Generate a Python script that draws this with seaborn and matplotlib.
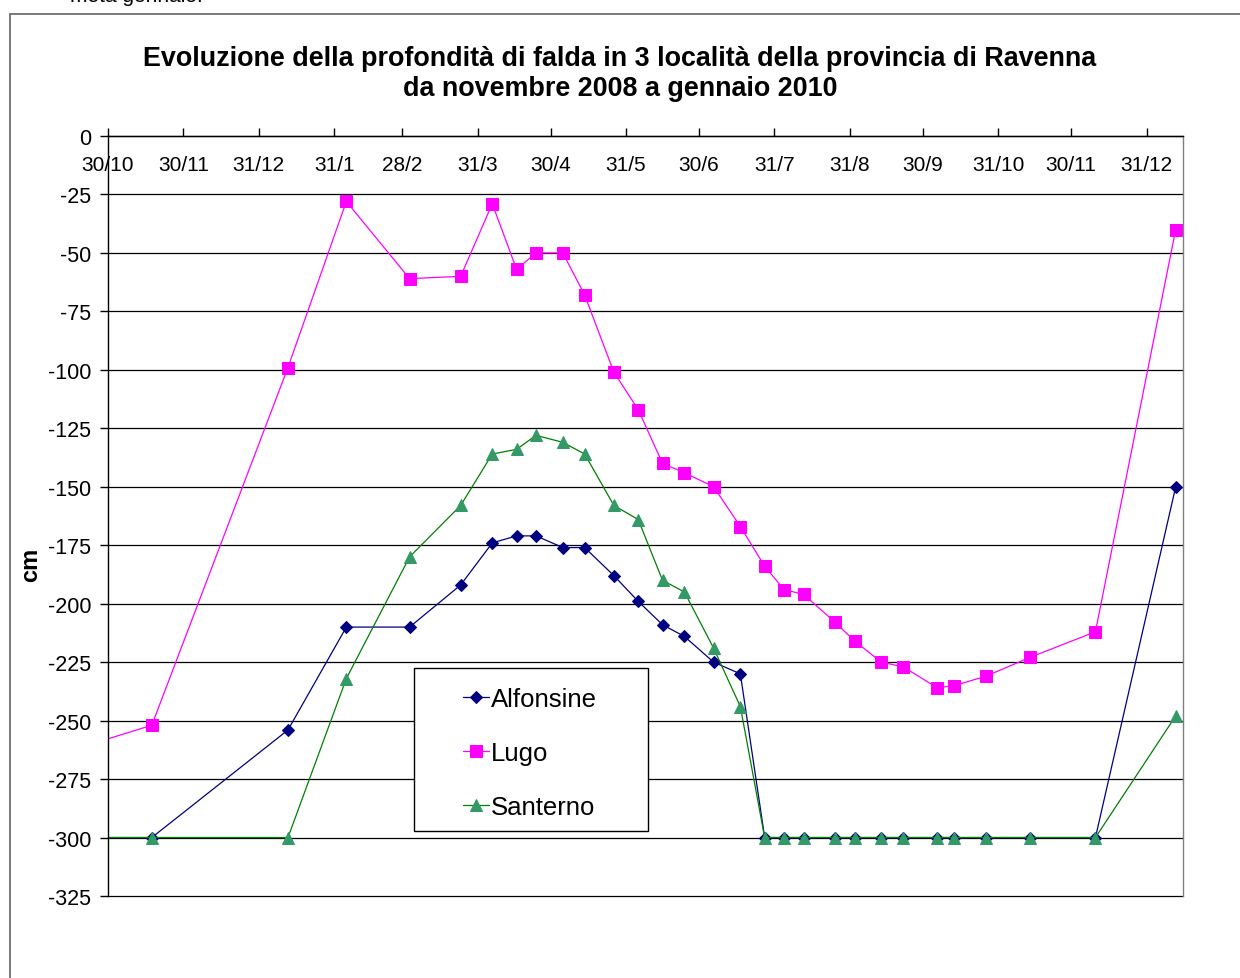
import numpy as np
import pandas as pd
import matplotlib
matplotlib.use('Agg')
import matplotlib.pyplot as plt
import seaborn as sns
from matplotlib.patches import Rectangle

# date di misura (la prima cade prima dell'inizio dell'asse)
dates = ['2008-10-20', '2008-11-17', '2009-01-12', '2009-02-05', '2009-03-03',
         '2009-03-24', '2009-04-06', '2009-04-16', '2009-04-24', '2009-05-05',
         '2009-05-14', '2009-05-26', '2009-06-05', '2009-06-15', '2009-06-24',
         '2009-07-06', '2009-07-17', '2009-07-27', '2009-08-04', '2009-08-12',
         '2009-08-25', '2009-09-02', '2009-09-13', '2009-09-22', '2009-10-06',
         '2009-10-13', '2009-10-26', '2009-11-13', '2009-12-10', '2010-01-12']

alfonsine = [-300, -300, -254, -210, -210, -192, -174, -171, -171, -176,
             -176, -188, -199, -209, -214, -225, -230, -300, -300, -300,
             -300, -300, -300, -300, -300, -300, -300, -300, -300, -150]
lugo = [-261, -252, -99, -28, -61, -60, -29, -57, -50, -50,
        -68, -101, -117, -140, -144, -150, -167, -184, -194, -196,
        -208, -216, -225, -227, -236, -235, -231, -223, -212, -40]
santerno = [-300, -300, -300, -232, -180, -158, -136, -134, -128, -131,
            -136, -158, -164, -190, -195, -219, -244, -300, -300, -300,
            -300, -300, -300, -300, -300, -300, -300, -300, -300, -248]

tick_dates = ['2008-10-30', '2008-11-30', '2008-12-31', '2009-01-31', '2009-02-28',
              '2009-03-31', '2009-04-30', '2009-05-31', '2009-06-30', '2009-07-31',
              '2009-08-31', '2009-09-30', '2009-10-31', '2009-11-30', '2009-12-31']
tick_labels = ['30/10', '30/11', '31/12', '31/1', '28/2', '31/3', '30/4', '31/5',
               '30/6', '31/7', '31/8', '30/9', '31/10', '30/11', '31/12']

sns.set_style('white')
plt.rcParams['font.family'] = ['Liberation Sans', 'DejaVu Sans']
plt.rcParams['axes.unicode_minus'] = False
plt.rcParams['text.color'] = 'black'
plt.rcParams['axes.labelcolor'] = 'black'

df = pd.DataFrame({'data': pd.to_datetime(dates),
                   'Alfonsine': alfonsine, 'Lugo': lugo, 'Santerno': santerno})

fig = plt.figure(figsize=(12.4, 9.79), dpi=100)
ax = fig.add_axes([108 / 1240, 1 - 897 / 979, (1183 - 108) / 1240, (897 - 137) / 979])

sns.lineplot(data=df, x='data', y='Alfonsine', ax=ax, color='#000080', lw=0.9,
             marker='D', markersize=6, markeredgecolor='#000080', label='Alfonsine')
sns.lineplot(data=df, x='data', y='Lugo', ax=ax, color='#FF00FF', lw=0.9,
             marker='s', markersize=8, markeredgecolor='#FF00FF', label='Lugo')
sns.lineplot(data=df, x='data', y='Santerno', ax=ax, color='#008000', lw=0.9,
             marker='^', markersize=8, markerfacecolor='#339966',
             markeredgecolor='#339966', label='Santerno')

ax.set_xlim(pd.Timestamp('2008-10-30'), pd.Timestamp('2010-01-15'))
ax.set_ylim(-325, 0)
ax.set_yticks(np.arange(-325, 1, 25))
ax.set_xticks(pd.to_datetime(tick_dates))
ax.set_xticklabels(tick_labels)
ax.grid(axis='y', color='black', lw=0.9)
ax.set_axisbelow(True)
for gl in ax.get_ygridlines():
    gl.set_clip_on(False)

# asse x in alto (incrocia a 0), etichette sotto la linea
ax.spines['bottom'].set_position(('data', 0))
ax.spines['bottom'].set_color('black')
ax.spines['top'].set_visible(False)
ax.spines['left'].set_color('black')
ax.spines['right'].set_color('#808080')
for s in ax.spines.values():
    s.set_linewidth(1)
ax.tick_params(axis='x', direction='in', length=6, width=1, pad=14,
               labelsize=15, bottom=True, colors='black')
ax.tick_params(axis='y', direction='out', length=6, width=1, pad=6,
               labelsize=15.5, left=True, colors='black')

ax.set_xlabel('')
ax.set_ylabel('cm', fontsize=17, fontweight='bold')
ax.yaxis.set_label_coords(-0.0614, 0.437)

# legenda con riquadro più largo, come in Excel
leg = ax.legend(loc='upper left', bbox_to_anchor=((463 - 108) / 1075, (897 - 688) / 760),
                borderaxespad=0, borderpad=0, fontsize=18.5, frameon=False,
                handlelength=1.0, handletextpad=0.1, labelspacing=1.16)
ax.add_patch(Rectangle(((414 - 108) / 1075, (897 - 832) / 760), 234 / 1075, 163 / 760,
                       transform=ax.transAxes, facecolor='white', edgecolor='black',
                       lw=1, zorder=4))
leg.set_zorder(5)

fig.suptitle('Evoluzione della profondità di falda in 3 località della provincia di Ravenna\n'
             'da novembre 2008 a gennaio 2010',
             x=620 / 1240, y=1 - 46 / 979, va='top', fontsize=19.4, fontweight='bold',
             linespacing=1.2, color='black')

fig.text(70 / 1240, 1 + 4 / 979, 'metà gennaio.', fontsize=15, va='center')
fig.patches.append(Rectangle((10 / 1240, -0.1), 1.2, 1.1 - 15 / 979,
                             transform=fig.transFigure, fill=False,
                             edgecolor='#6e6e6e', lw=1.3))

fig.savefig('out.png', dpi=100)
